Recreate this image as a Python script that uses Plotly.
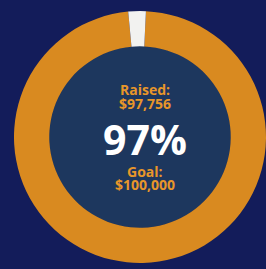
import math
import plotly.graph_objects as go

labels = ["Raised", "Remaining"]
raised = 97756
goal = 100000
values = [raised, goal - raised]
pct_text = f"{math.floor(raised / goal * 100)}%"

W, H = 266, 269
fig = go.Figure()
fig.add_trace(go.Pie(
    labels=labels, values=values, hole=0.72, sort=False,
    direction="clockwise", rotation=2.7,
    marker=dict(colors=["#d98a20", "#f2f2f0"], line=dict(width=0)),
    textinfo="none", hoverinfo="label+value", showlegend=False,
    domain=dict(x=[14 / W, 1.0], y=[5 / H, 259 / H]),
))

# inner hole colour
cx, cy, r = 140, 137, 91
fig.add_shape(type="circle", xref="paper", yref="paper", layer="below",
              x0=(cx - r) / W, x1=(cx + r) / W, y0=1 - (cy + r) / H, y1=1 - (cy - r) / H,
              fillcolor="#1d375e", line=dict(width=0))

orange = "#e8962a"
font = "Open Sans"
def ann(text, y, size, color):
    fig.add_annotation(x=145 / W, y=1 - y / H, xref="paper", yref="paper", text=text,
                       showarrow=False, font=dict(family=font, size=size, color=color),
                       xanchor="center", yanchor="middle", borderpad=0)

ann("<b>Raised:</b>", 90, 14, orange)
ann(f"<b>${raised:,}</b>", 103, 14, orange)
ann(f"<b>{pct_text}</b>", 139, 41, "white")
ann("<b>Goal:</b>", 171, 14, orange)
ann(f"<b>${goal:,}</b>", 184, 14, orange)

fig.update_layout(width=W, height=H, margin=dict(l=0, r=0, t=0, b=0),
                  paper_bgcolor="#131c5a", plot_bgcolor="#131c5a")
fig.write_html("out.html", config={"displayModeBar": False},
               post_script="document.body.style.margin='0';document.body.style.overflow='hidden';")
